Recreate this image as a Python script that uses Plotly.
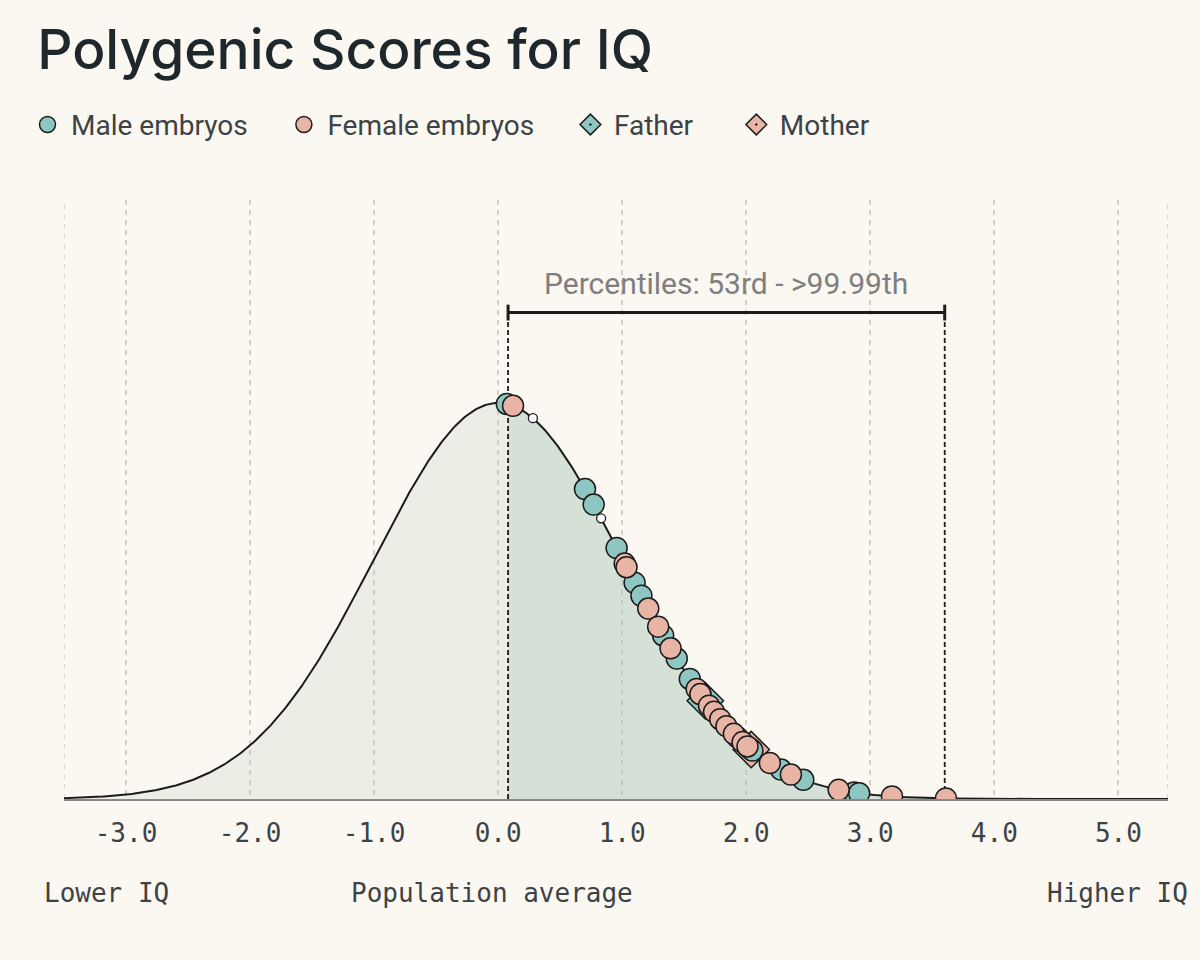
import numpy as np
import plotly.graph_objects as go

# polygenic score (SD units) of each embryo / parent
male_scores = [0.07, 0.70, 0.77, 0.955, 1.10, 1.155, 1.33, 1.44, 1.545, 1.63,
               1.93, 2.03, 2.05, 2.28, 2.46, 2.87, 2.91]
female_scores = [0.12, 1.02, 1.035, 1.21, 1.29, 1.39, 1.60, 1.63, 1.70, 1.74,
                 1.79, 1.84, 1.90, 1.97, 2.01, 2.19, 2.36, 2.745, 3.175, 3.61]
other_scores = [0.28, 0.83]
father_score = [1.67]
mother_score = [2.04]

pct_low = 0.08
pct_high = 3.60
pct_label = "Percentiles: 53rd - >99.99th"

tick_vals = [-3, -2, -1, 0, 1, 2, 3, 4, 5]
tick_text = ["-3.0", "-2.0", "-1.0", "0.0", "1.0", "2.0", "3.0", "4.0", "5.0"]
x_range = [-3.5, 5.4]

TEAL = "#8ec7c2"
PINK = "#e8b4a6"
INK = "#1c1c1c"
BG = "#fbf7f1"
TXT = "#3b4347"
GRID = "#d2cec8"

# non-breaking padding so legend entries sit as far apart as in the original
PAD = "\u00a0" * 4


def pdf(x):
    x = np.asarray(x, dtype=float)
    return np.exp(-x ** 2 / 2) / np.sqrt(2 * np.pi)


xs = np.linspace(x_range[0], x_range[1], 800)
xs = np.sort(np.append(xs, pct_low))
ys = pdf(xs)

left = xs <= pct_low
right = xs >= pct_low

bracket_y = 0.49

fig = go.Figure()

# shaded areas under the curve
fig.add_trace(go.Scatter(x=xs[left], y=ys[left], mode="lines", line=dict(width=0),
                         fill="tozeroy", fillcolor="rgba(198,210,196,0.27)",
                         hoverinfo="skip", showlegend=False))
fig.add_trace(go.Scatter(x=xs[right], y=ys[right], mode="lines", line=dict(width=0),
                         fill="tozeroy", fillcolor="rgba(176,202,190,0.50)",
                         hoverinfo="skip", showlegend=False))
# the curve
fig.add_trace(go.Scatter(x=xs, y=ys, mode="lines", line=dict(color=INK, width=2),
                         hoverinfo="skip", showlegend=False))

# dashed range markers
for xv in [pct_low, pct_high]:
    fig.add_trace(go.Scatter(x=[xv, xv], y=[0, bracket_y], mode="lines",
                             line=dict(color=INK, width=1.8, dash="5px,3px"),
                             hoverinfo="skip", showlegend=False))

# parents (drawn under the embryos)
fig.add_trace(go.Scatter(x=father_score, y=pdf(father_score), mode="markers",
                         name="Father" + PAD + "\u00a0", legendrank=3,
                         marker=dict(symbol="diamond-dot", size=28, color=TEAL,
                                     line=dict(color=INK, width=1.5))))
fig.add_trace(go.Scatter(x=mother_score, y=pdf(mother_score), mode="markers",
                         name="Mother", legendrank=4,
                         marker=dict(symbol="diamond-dot", size=28, color=PINK,
                                     line=dict(color=INK, width=1.5))))

fig.add_trace(go.Scatter(x=other_scores, y=pdf(other_scores), mode="markers",
                         marker=dict(size=9, color="white", line=dict(color=INK, width=1.3)),
                         showlegend=False))
fig.add_trace(go.Scatter(x=male_scores, y=pdf(male_scores), mode="markers",
                         name="Male embryos" + PAD, legendrank=1,
                         marker=dict(size=21, color=TEAL, line=dict(color=INK, width=1.5))))
fig.add_trace(go.Scatter(x=female_scores, y=pdf(female_scores), mode="markers",
                         name="Female embryos" + PAD, legendrank=2,
                         marker=dict(size=21, color=PINK, line=dict(color=INK, width=1.5))))

# percentile bracket
cap = 0.008
fig.add_shape(type="line", x0=pct_low, x1=pct_high, y0=bracket_y, y1=bracket_y,
              line=dict(color=INK, width=3))
for xv in [pct_low, pct_high]:
    fig.add_shape(type="line", x0=xv, x1=xv, y0=bracket_y - cap, y1=bracket_y + cap,
                  line=dict(color=INK, width=3))
fig.add_annotation(x=(pct_low + pct_high) / 2, y=0.519, text=pct_label, showarrow=False,
                   font=dict(family="Roboto", size=30, color="#7f7f7f"), yanchor="middle")

# dashed grid lines at the two edges of the axis
for xv in x_range:
    fig.add_shape(type="line", xref="x", yref="paper", x0=xv, x1=xv, y0=0, y1=1,
                  layer="below", line=dict(color=GRID, width=1.5, dash="5px,5px"))

# bottom labels
mono = dict(family="DejaVu Sans Mono", size=26, color=TXT)
fig.add_annotation(xref="paper", yref="paper", x=-0.02, y=-0.157, text="Lower IQ",
                   showarrow=False, xanchor="left", yanchor="middle", font=mono)
fig.add_annotation(xref="x", yref="paper", x=-0.05, y=-0.157, text="Population average",
                   showarrow=False, xanchor="center", yanchor="middle", font=mono)
fig.add_annotation(xref="paper", yref="paper", x=1.02, y=-0.157, text="Higher IQ",
                   showarrow=False, xanchor="right", yanchor="middle", font=mono)

fig.update_xaxes(range=x_range, tickvals=tick_vals, ticktext=tick_text,
                 showgrid=True, gridcolor=GRID, gridwidth=1.5, griddash="5px,5px",
                 showline=True, linecolor="#8a8a8a", linewidth=2,
                 zeroline=False, ticks="", ticklabelstandoff=10,
                 tickfont=dict(family="DejaVu Sans Mono", size=26, color=TXT))
fig.update_yaxes(range=[0, 0.6034], visible=False, showgrid=False, zeroline=False)

fig.update_layout(
    width=1200, height=960,
    paper_bgcolor=BG, plot_bgcolor=BG,
    margin=dict(l=64, r=32, t=200, b=161),
    title=dict(text="Polygenic Scores for IQ", x=0.031, xanchor="left",
               y=0.948, yanchor="middle",
               font=dict(family="Inter", size=55, color="#1e272b", weight=500)),
    legend=dict(orientation="h", xref="container", yref="container",
                x=0.02, y=0.87, xanchor="left", yanchor="middle",
                font=dict(family="Roboto", size=28, color=TXT),
                itemwidth=37, itemsizing="trace", bgcolor="rgba(0,0,0,0)"),
    showlegend=True,
)

fig.write_html("out.html", config={"displayModeBar": False},
               post_script="document.body.style.margin='0';"
                           "document.body.style.background='" + BG + "';")
